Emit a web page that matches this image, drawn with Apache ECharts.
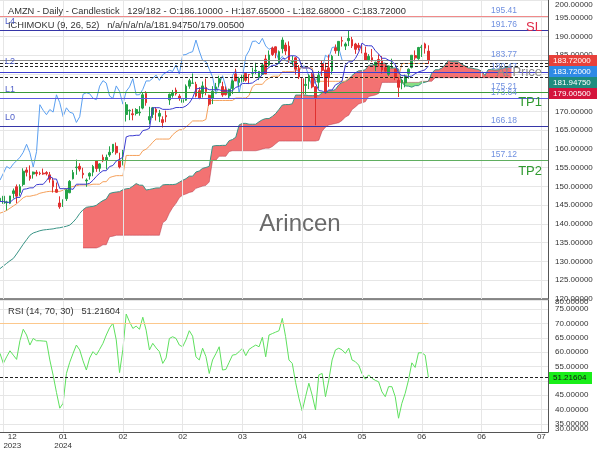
<!DOCTYPE html>
<html><head><meta charset="utf-8">
<script src="https://cdn.jsdelivr.net/npm/echarts@6/dist/echarts.min.js"></script>
<style>html,body{margin:0;padding:0;background:#fff}#c{width:600px;height:450px}</style>
</head><body><div id="c"></div>
<script>
// ---- data (AMZN daily, 2023-12-07 .. 2024-06-13) ----
const open=[146.15,145.48,145.66,145.52,148.12,149.93,148.38,150.56,154.40,152.90,
153.30,153.77,153.56,153.56,153.72,153.10,151.54,149.20,145.59,144.69,
146.74,148.33,152.06,155.04,155.39,153.53,151.49,152.77,153.83,156.89,
154.85,157.80,156.95,158.42,159.34,160.70,157.00,155.87,169.19,170.20,
169.39,169.48,169.65,170.90,174.80,167.73,169.21,170.58,168.74,167.83,
168.94,173.10,174.28,175.70,174.08,172.44,173.01,176.75,177.53,177.24,
175.54,174.83,176.44,174.31,173.50,175.90,177.69,176.64,175.80,174.22,
176.14,179.99,177.75,178.01,180.15,179.88,180.17,180.79,179.07,179.90,
184.00,182.38,186.90,187.24,182.77,186.74,187.72,187.43,183.27,184.31,
181.47,178.74,176.94,178.08,179.94,176.60,177.80,182.75,181.09,181.64,
180.85,186.99,186.28,188.92,187.44,188.88,189.16,188.00,187.64,187.91,
185.60,183.76,184.34,182.30,183.88,183.66,181.65,179.93,181.70,181.31,
178.30,177.70,177.64,180.10,181.75,184.90,184.07,187.06,188.02,186.10];
const high=[147.92,147.84,146.19,147.50,149.46,150.54,150.57,154.85,155.12,155.63,
153.97,154.35,153.98,154.78,154.08,153.89,152.38,151.05,147.38,146.59,
149.40,151.71,154.42,157.17,156.20,154.99,152.15,153.78,155.76,157.05,
156.21,158.51,158.51,160.72,161.29,161.73,159.01,159.76,172.50,170.55,
170.71,170.88,171.43,175.00,175.39,171.25,171.21,171.17,170.42,168.71,
170.23,174.80,175.75,176.37,174.62,174.05,177.22,178.73,180.14,177.92,
176.46,177.99,178.79,174.47,176.76,177.62,179.53,177.93,176.69,176.09,
178.53,181.42,179.26,180.99,180.45,180.00,181.70,183.00,180.79,182.87,
185.10,186.27,187.29,187.34,186.27,189.77,188.38,188.69,184.83,184.57,
182.39,179.00,178.87,179.93,180.32,176.70,180.82,183.53,182.99,185.15,
185.10,187.87,188.75,189.94,188.43,191.70,189.89,188.31,188.30,187.91,
187.31,185.30,186.67,183.26,185.22,184.76,182.44,182.24,184.08,181.34,
179.21,178.70,179.82,181.50,185.00,186.29,187.23,187.77,188.35,187.65];
const low=[145.34,145.40,143.64,145.30,146.82,145.52,147.50,150.05,152.69,151.56,
152.10,152.71,153.03,153.12,152.95,151.03,148.39,148.33,144.05,144.53,
146.15,148.21,151.88,153.12,154.01,152.15,149.91,151.82,152.74,153.90,
153.93,156.48,154.55,157.91,158.90,158.49,154.81,155.62,167.33,167.70,
167.65,168.94,168.88,170.58,171.54,166.62,168.28,167.59,167.17,165.74,
167.14,171.77,173.70,174.26,172.86,172.27,172.85,176.07,177.49,173.76,
173.26,173.72,174.33,171.47,171.98,175.55,176.47,173.90,174.28,173.52,
174.64,178.15,176.75,177.24,177.95,177.31,179.26,179.95,178.38,179.80,
180.00,181.97,184.81,184.20,182.67,185.51,185.08,183.00,182.26,179.82,
178.65,173.44,174.56,175.98,176.18,166.32,176.13,179.39,174.80,176.56,
179.91,185.42,184.80,187.31,186.39,187.44,186.93,185.36,186.29,185.50,
183.46,183.35,183.28,180.75,181.97,180.08,180.30,179.49,181.55,178.36,
173.87,175.92,176.44,178.75,181.49,183.36,183.79,184.54,185.43,182.68];
const close=[146.88,147.42,145.89,147.48,148.84,147.42,149.97,154.07,153.79,152.12,
153.84,153.42,153.41,153.34,153.38,151.94,149.93,148.47,144.57,145.24,
149.10,151.37,153.73,155.18,154.62,153.16,151.71,153.50,155.34,154.78,
156.02,156.87,157.75,159.12,161.26,159.00,155.20,159.28,171.81,170.31,
169.15,170.53,169.84,174.45,172.34,168.64,170.98,169.80,169.51,167.08,
168.59,174.58,174.99,174.73,173.54,173.16,176.76,178.22,177.58,174.12,
173.51,176.82,175.35,171.96,175.39,176.56,178.75,174.42,174.48,175.90,
178.15,178.15,178.87,179.71,178.30,179.83,180.38,180.97,180.69,182.41,
180.00,185.07,185.19,185.67,185.95,189.05,186.13,183.62,183.32,181.28,
179.22,174.63,177.23,179.54,176.59,173.67,179.62,180.96,175.00,179.00,
184.72,186.21,188.70,188.76,188.00,189.50,187.48,186.57,187.07,185.99,
183.63,184.70,183.54,183.15,183.13,181.05,180.75,182.15,182.02,179.32,
176.44,178.34,179.34,181.28,185.00,184.30,187.06,187.23,186.89,183.72];
const tenkan=[146.0,146.0,145.78,145.78,146.55,147.09,147.1,149.25,149.38,149.64,
149.64,150.47,150.58,150.58,151.57,152.84,152.01,151.98,149.42,149.42,
149.42,149.42,149.24,150.61,150.61,150.61,150.61,150.85,151.66,152.69,
153.54,154.21,154.21,155.32,155.6,156.78,157.24,157.82,163.22,163.53,
163.53,163.66,163.66,164.91,165.1,165.51,171.01,171.01,171.01,170.57,
170.57,170.57,170.75,171.06,171.06,171.06,171.48,172.24,173.64,175.96,
176.21,176.21,176.21,175.81,175.81,175.81,175.81,175.5,175.5,175.5,
175.5,176.45,176.7,177.47,177.47,177.47,177.61,178.26,178.82,179.88,
180.93,181.76,182.3,182.33,182.86,184.08,184.08,184.79,184.89,184.8,
184.21,181.61,181.61,181.61,181.07,177.51,175.58,175.45,174.93,175.74,
175.74,177.1,177.54,178.13,182.37,183.25,183.25,184.13,185.81,188.25,
187.58,187.53,187.49,186.23,185.32,184.2,184.19,183.7,183.4,182.52,
180.27,179.55,179.55,179.32,179.44,180.08,180.55,180.82,181.11,182.14];
const kijun=[142.9,143.2,143.6,144.2,144.8,145.4,146.2,147.0,147.4,147.4,
147.6,147.8,148.2,148.4,148.6,148.7,148.7,148.7,148.7,149.0,
149.4,149.8,150.0,150.2,150.41,150.41,150.41,150.41,150.61,150.61,
150.61,151.28,151.28,152.39,152.67,152.89,152.89,152.89,158.28,158.28,
158.28,158.28,158.28,159.53,159.96,160.77,161.8,162.65,162.65,162.65,
162.65,162.65,163.79,164.56,165.14,165.15,165.89,166.64,167.48,167.48,
167.48,167.48,167.88,172.94,172.94,172.94,172.94,172.94,172.94,172.94,
172.94,173.58,173.58,173.58,173.58,174.28,176.59,177.24,177.24,177.24,
178.29,178.87,179.38,179.41,179.41,180.62,180.62,180.62,180.62,180.88,
181.65,181.61,181.61,181.61,181.61,178.05,178.05,178.05,178.05,178.05,
178.05,178.05,178.05,178.05,178.05,179.01,179.01,179.01,179.01,179.01,
179.01,179.01,179.01,179.01,179.01,179.01,179.01,179.01,179.01,179.01,
179.01,182.79,182.79,182.79,182.79,182.79,182.79,182.79,182.79,182.79];
const chikou=[151.71,153.50,155.34,154.78,156.02,156.87,157.75,159.12,161.26,159.00,
155.20,159.28,171.81,170.31,169.15,170.53,169.84,174.45,172.34,168.64,
170.98,169.80,169.51,167.08,168.59,174.58,174.99,174.73,173.54,173.16,
176.76,178.22,177.58,174.12,173.51,176.82,175.35,171.96,175.39,176.56,
178.75,174.42,174.48,175.90,178.15,178.15,178.87,179.71,178.30,179.83,
180.38,180.97,180.69,182.41,180.00,185.07,185.19,185.67,185.95,189.05,
186.13,183.62,183.32,181.28,179.22,174.63,177.23,179.54,176.59,173.67,
179.62,180.96,175.00,179.00,184.72,186.21,188.70,188.76,188.00,189.50,
187.48,186.57,187.07,185.99,183.63,184.70,183.54,183.15,183.13,181.05,
180.75,182.15,182.02,179.32,176.44,178.34,179.34,181.28,185.00,184.30,
187.06,187.23,186.89,183.72];
// Senkou A: slots 0..154
const senkouA=[128.1,128.8,129.5,130.2,130.8,132.0,133.3,134.6,135.8,137.0,
137.6,137.9,138.2,138.4,138.5,138.6,138.7,138.9,139.0,139.2,
139.4,139.7,140.5,141.5,142.8,143.8,144.45,144.6,144.69,144.99,
145.68,146.25,146.65,148.13,148.39,148.52,148.62,149.14,149.39,149.49,
150.09,150.77,150.36,150.34,149.06,149.21,149.41,149.61,149.62,150.41,
150.51,150.51,150.51,150.63,151.14,151.65,152.08,152.75,152.75,153.86,
154.14,154.84,155.07,155.36,160.75,160.91,160.91,160.97,160.97,162.22,
162.53,163.14,166.41,166.83,166.83,166.61,166.61,166.61,167.27,167.81,
168.1,168.11,168.69,169.44,170.56,171.72,171.85,171.85,172.05,174.38,
174.38,174.38,174.38,174.22,174.22,174.22,174.22,175.02,175.14,175.53,
175.53,175.88,177.1,177.75,178.03,178.56,179.61,180.32,180.84,180.87,
181.14,182.35,182.35,182.71,182.76,182.84,182.93,181.61,181.61,181.61,
181.34,177.78,176.82,176.75,176.49,176.9,176.9,177.58,177.8,178.09,
180.21,181.13,181.13,181.57,182.41,183.63,183.3,183.27,183.25,182.62,
182.17,181.61,181.6,181.36,181.21,180.77,179.64,181.17,181.17,181.06,
181.12,181.44,181.67,181.81,181.95];
// Senkou B: slots 25..154
const senkouBStart=25;
const senkouB=[133.6,133.6,133.6,133.6,133.6,133.9,134.45,134.46,136.6,136.74,
136.99,136.99,136.99,136.99,136.99,136.99,136.99,136.99,136.99,136.99,
136.99,136.99,136.99,136.99,140.3,141.0,142.9,144.4,145.5,147.0,
147.7,148.0,148.4,148.6,149.5,149.8,150.1,150.3,151.2,157.0,
157.0,158.05,158.05,158.05,159.3,159.52,159.52,159.52,159.52,159.52,
159.52,159.52,159.52,159.7,160.0,160.21,160.21,160.64,161.39,162.1,
162.1,162.1,162.1,162.1,162.1,162.1,162.1,162.1,162.1,162.1,
162.1,162.34,164.8,165.8,166.4,166.6,166.8,167.0,167.6,168.5,
169.0,170.5,171.2,172.0,172.3,172.6,174.0,174.2,174.4,174.8,
177.76,177.76,177.76,177.76,177.76,177.76,177.76,177.76,177.76,177.76,
177.76,177.76,178.05,178.05,178.05,178.05,179.01,179.01,179.01,179.01,
179.01,179.01,179.01,179.01,179.01,179.01,179.01,179.01,179.01,179.01,
179.01,179.01,179.01,179.01,179.01,179.01,179.01,179.01,179.01,179.01];
const rsi=[59.6,56.1,58.4,60.5,59.0,57.5,64.0,68.0,66.0,62.5,
64.8,64.0,64.0,63.9,63.8,57.3,52.0,46.0,40.5,42.2,
52.6,56.5,59.6,62.5,60.8,57.0,53.8,58.0,60.2,59.0,
61.0,63.1,66.0,68.5,70.1,64.3,52.9,61.0,73.3,70.6,
68.3,69.1,68.0,72.2,67.7,60.8,63.1,61.5,60.2,56.1,
58.0,64.8,65.4,64.8,62.5,61.9,64.3,67.5,65.6,58.4,
57.3,61.4,58.5,52.6,57.3,59.5,61.9,53.8,54.0,56.5,
59.0,59.2,60.2,61.4,58.8,61.0,61.8,62.5,61.9,65.2,
58.4,66.0,66.5,67.0,67.5,71.8,65.4,57.3,56.1,49.5,
44.0,39.5,44.5,49.2,45.0,39.9,52.1,52.6,44.5,50.3,
57.3,60.8,61.4,60.8,59.6,61.4,57.3,56.7,55.5,52.5,
50.6,52.1,50.9,50.2,49.7,46.2,44.5,48.0,48.0,44.5,
37.0,42.2,45.7,50.3,56.3,54.7,59.8,59.8,59.0,51.21604];
// x ticks: slot indices and their labels
const tickSlots=[1,19,37,55,73,91,109,127,145,163];
const tickLabels=['12\n2023','01\n2024','02','02','03','04','05','06','06','07'];
const levelLines=[
 {v:195.41,color:'#f08a8a',text:'195.41'},
 {v:191.76,color:'#3636a8',text:'191.76'},
 {v:183.77,color:'#8a8a8a',text:'183.77'},
 {v:180.47,color:'#3d3dd0',text:'180.47'},
 {v:175.21,color:'#3a9a3a',text:'175.21'},
 {v:173.64,color:'#5a5ae0',text:'173.64'},
 {v:166.18,color:'#3636a8',text:'166.18'},
 {v:157.12,color:'#5fae5f',text:'157.12'}];
const dottedLevels=[182.8,181.9475,179.005];
const lastRsi=51.21604;

// ---- build ----
const N=166;
const cats=Array.from({length:N},(_,i)=>String(i));
function pad(arr,start){const o=new Array(N).fill(null);arr.forEach((v,i)=>{o[start+i]=v;});return o;}
const sa=pad(senkouA,0), sb=pad(senkouB,senkouBStart);
const base=[],red=[],green=[];
for(let i=0;i<N;i++){
  if(sa[i]!=null&&sb[i]!=null){base.push(Math.min(sa[i],sb[i]));red.push(Math.max(sa[i]-sb[i],0));green.push(Math.max(sb[i]-sa[i],0));}
  else{base.push(null);red.push(null);green.push(null);}
}
const candleData=open.map((o,i)=>[o,close[i],low[i],high[i]]);
const FONT='Liberation Sans';
const GRID='#e6e6e6';
const vGrid=tickSlots.map(s=>({xAxis:String(s),lineStyle:{color:GRID,width:1,type:'solid'},label:{show:false}}));

const markData=levelLines.map(l=>({yAxis:l.v,lineStyle:{color:l.color,width:1,type:'solid'},
  label:{show:true,position:'insideEndTop',formatter:l.text,color:'#7090e0',fontSize:8.5,fontFamily:FONT,padding:[0,30,0,0],distance:1}}))
 .concat(dottedLevels.map(v=>({yAxis:v,lineStyle:{color:'#222',width:1,type:[3,2]},label:{show:false}})));

const lineS=(name,data,color,w,xi,z)=>({name,type:'line',data,xAxisIndex:xi||0,yAxisIndex:xi||0,showSymbol:false,symbol:'none',
  lineStyle:{color,width:w},connectNulls:false,z:z||3,silent:true,animation:false});

function txt(text,x,y,size,fill,align){return {type:'text',x,y,z:100,silent:true,style:{text,fontSize:size,fontFamily:FONT,fill,align:align||'left',verticalAlign:'middle'}};}
function tag(text,y,h,w,bg,fg){return [{type:'rect',z:100,silent:true,shape:{x:549,y,width:w,height:h},style:{fill:bg}},
  txt(text,553,y+h/2,8,fg)];}

const option={
  animation:false,
  textStyle:{fontFamily:FONT},
  grid:[{left:0,right:52,top:0,height:299},{left:0,right:52,top:300,height:132}],
  xAxis:[
    {type:'category',gridIndex:0,data:cats,boundaryGap:false,
     axisLine:{show:true,lineStyle:{color:'#666',width:1.5}},axisTick:{show:false},axisLabel:{show:false},splitLine:{show:false}},
    {type:'category',gridIndex:1,data:cats,boundaryGap:false,
     axisLine:{show:true,lineStyle:{color:'#555',width:1.2}},axisTick:{show:false},axisLabel:{show:false},splitLine:{show:false}}
  ],
  yAxis:[
    {type:'value',gridIndex:0,position:'right',min:120,max:199.73,interval:5,
     axisLine:{show:true,lineStyle:{color:'#555'}},axisTick:{show:false},
     axisLabel:{formatter:v=>v.toFixed(5),fontSize:8,color:'#333',margin:7,showMaxLabel:false},
     splitLine:{show:true,lineStyle:{color:GRID}}},
    {type:'value',gridIndex:1,position:'right',min:32.2,max:78.2,splitNumber:9,
     axisLine:{show:true,lineStyle:{color:'#555'}},axisTick:{show:false},
     axisLabel:{formatter:v=>v.toFixed(5),fontSize:8,color:'#333',margin:7,showMinLabel:false,showMaxLabel:false},
     splitLine:{show:true,lineStyle:{color:GRID}}}
  ],
  series:[
    {name:'base',type:'line',data:base,stack:'cloud',showSymbol:false,symbol:'none',lineStyle:{width:0},z:1,silent:true,
     markLine:{symbol:['none','none'],silent:true,animation:false,data:vGrid}},
    {name:'cloudRed',type:'line',data:red,stack:'cloud',showSymbol:false,symbol:'none',lineStyle:{width:0},
     areaStyle:{color:'#f37272',opacity:1},z:1,silent:true},
    {name:'cloudGreen',type:'line',data:green,stack:'cloud',showSymbol:false,symbol:'none',lineStyle:{width:0},
     areaStyle:{color:'#86df86',opacity:1},z:1,silent:true},
    lineS('senkouA',sa,'#3a9486',1,0,2),
    lineS('senkouB',sb,'rgba(170,40,60,0.55)',0.8,0,2),
    lineS('chikou',pad(chikou,0),'#5a9ff0',1,0,3),
    lineS('kijun',pad(kijun,0),'#f5a05a',1,0,3),
    {name:'AMZN',type:'candlestick',data:candleData,xAxisIndex:0,yAxisIndex:0,barWidth:2.2,z:4,silent:true,
     itemStyle:{color:'#23a347',color0:'#e0302f',borderColor:'#23a347',borderColor0:'#e0302f',borderWidth:1},
     markLine:{symbol:['none','none'],silent:true,animation:false,data:markData}},
    lineS('tenkan',pad(tenkan,0),'#3b3bd0',1,0,5),
    Object.assign(lineS('rsiGrid',pad(rsi,0),'rgba(0,0,0,0)',0,1,1),{
      markLine:{symbol:['none','none'],silent:true,animation:false,data:vGrid}}),
    Object.assign(lineS('rsi',pad(rsi,0),'#5ee05e',1,1,3),{
      markLine:{symbol:['none','none'],silent:true,animation:false,data:[
        [{xAxis:'0',yAxis:70,lineStyle:{color:'#fcc88c',width:1.2,type:'solid'}},{xAxis:'129',yAxis:70}],
        {yAxis:lastRsi,lineStyle:{color:'#222',width:1,type:[3,2]}}],label:{show:false}}})
  ]
};
const chart=echarts.init(document.getElementById('c'));
chart.setOption(option);

// x-axis tick labels placed through the axis scale
const axisY=chart.convertToPixel({yAxisIndex:1},32.2);
const xLabels=[];
tickSlots.forEach((s,k)=>{
  const px=chart.convertToPixel({xAxisIndex:1},String(s));
  const lines=tickLabels[k].split('\n');
  const shift=k===0?9:0;
  lines.forEach((t,j)=>xLabels.push(txt(t,px+shift,axisY+5+j*9,8,'#333','center')));
});
chart.setOption({graphic:[
    txt('AMZN - Daily - Candlestick   129/182 - O:186.10000 - H:187.65000 - L:182.68000 - C:183.72000',8,11,9.3,'#333'),
    txt('ICHIMOKU (9, 26, 52)   n/a/n/a/n/a/181.94750/179.00500',8,25,9.3,'#333'),
    txt('RSI (14, 70, 30)   51.21604',8,311,9.3,'#333'),
    txt('L4',5,21.5,9,'#4f5fc8'),txt('L2',5,61.5,9,'#4f5fc8'),txt('L1',5,90,9,'#4f5fc8'),txt('L0',5,118,9,'#4f5fc8'),
    txt('SL',542,27,13,'#e02a48','right'),
    txt('At Price',542,72,13,'#8c8c8c','right'),
    txt('TP1',542,102.5,13,'#2f9a2f','right'),
    txt('TP2',542,171,13,'#2f9a2f','right'),
    txt('Arincen',300,224,24,'#6a6a6a','center'),
    txt('200.00000',555,5,8,'#333'),
    txt('80.00000',555,302,8,'#333'),
    txt('30.00000',555,429,8,'#333'),
    ...tag('183.72000',55,11,48,'#e8403a','#fff'),
    ...tag('183.72000',66,11,48,'#2e8ae6','#fff'),
    ...tag('181.94750',77,11,48,'#1e8c7e','#fff'),
    ...tag('179.00500',88,11,48,'#d4143c','#fff'),
    ...tag('51.21604',372,12,43,'#19ee19','#111'),
    ...xLabels
]});
</script></body></html>
